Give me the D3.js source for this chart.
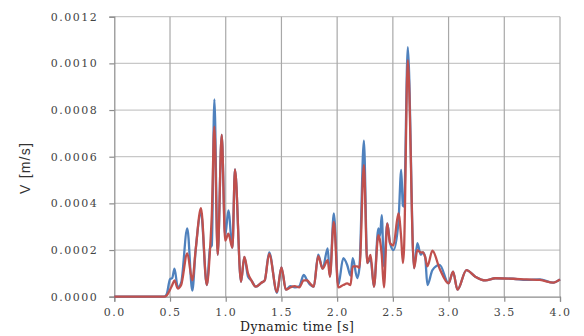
<!DOCTYPE html>
<html>
<head>
<meta charset="utf-8">
<script src="https://cdn.jsdelivr.net/npm/d3@7"></script>
<style>
  body { margin: 0; background: #fff; }
  svg { display: block; }
</style>
</head>
<body>
<svg id="chart"></svg>
<script>
// dynamic time [s]
var time = [0.0, 0.45, 0.47, 0.50, 0.52, 0.54, 0.57, 0.60, 0.655, 0.70, 0.73, 0.778, 0.83, 0.86, 0.875,
  0.898, 0.928, 0.964, 0.995, 1.024, 1.06, 1.083, 1.137, 1.167, 1.20, 1.23, 1.27, 1.32, 1.35, 1.39,
  1.46, 1.50, 1.54, 1.58, 1.62, 1.66, 1.70, 1.73, 1.76, 1.79, 1.83, 1.87, 1.915, 1.935, 1.97, 2.01,
  2.055, 2.09, 2.12, 2.14, 2.18, 2.20, 2.24, 2.27, 2.30, 2.33, 2.37, 2.385, 2.40, 2.42, 2.45, 2.475,
  2.505, 2.55, 2.575, 2.59, 2.60, 2.634, 2.69, 2.72, 2.75, 2.77, 2.79, 2.81, 2.855, 2.92, 3.0, 3.04,
  3.08, 3.16, 3.24, 3.33, 3.42, 3.58, 3.70, 3.82, 3.94, 4.0];

// V [m/s], blue series
var seriesBlue = [0, 0, 0.10e-4, 0.75e-4, 0.80e-4, 1.20e-4, 0.40e-4, 0.60e-4, 2.93e-4, 0.26e-4, 2.00e-4, 3.60e-4, 0.50e-4, 2.10e-4, 2.20e-4,
  8.46e-4, 1.80e-4, 6.93e-4, 2.60e-4, 3.70e-4, 2.10e-4, 5.46e-4, 0.64e-4, 1.71e-4, 0.86e-4, 0.70e-4, 0.43e-4, 0.60e-4, 0.70e-4, 1.90e-4,
  0.16e-4, 1.26e-4, 0.30e-4, 0.45e-4, 0.40e-4, 0.45e-4, 0.93e-4, 0.70e-4, 0.50e-4, 0.43e-4, 1.80e-4, 1.20e-4, 2.07e-4, 0.86e-4, 3.57e-4, 0.50e-4,
  1.65e-4, 1.36e-4, 0.90e-4, 1.65e-4, 0.80e-4, 1.24e-4, 6.69e-4, 1.44e-4, 1.60e-4, 0.43e-4, 2.93e-4, 2.60e-4, 3.50e-4, 1.30e-4, 3.14e-4, 2.29e-4,
  2.00e-4, 3.20e-4, 5.43e-4, 3.90e-4, 3.86e-4, 10.70e-4, 1.22e-4, 2.29e-4, 1.80e-4, 1.90e-4, 1.70e-4, 0.50e-4, 1.14e-4, 1.36e-4, 0.57e-4, 1.07e-4,
  0.30e-4, 1.14e-4, 0.86e-4, 0.70e-4, 0.79e-4, 0.77e-4, 0.72e-4, 0.74e-4, 0.60e-4, 0.74e-4];

// V [m/s], red series
var seriesRed = [0, 0, 0.05e-4, 0.30e-4, 0.50e-4, 0.70e-4, 0.35e-4, 0.50e-4, 1.86e-4, 0.70e-4, 2.00e-4, 3.80e-4, 0.50e-4, 2.10e-4, 3.50e-4,
  7.29e-4, 1.80e-4, 6.93e-4, 2.40e-4, 2.70e-4, 2.10e-4, 5.46e-4, 0.64e-4, 1.71e-4, 1.00e-4, 0.70e-4, 0.43e-4, 0.60e-4, 0.70e-4, 1.83e-4,
  0.20e-4, 1.26e-4, 0.30e-4, 0.40e-4, 0.45e-4, 0.40e-4, 0.70e-4, 0.70e-4, 0.55e-4, 0.43e-4, 1.74e-4, 1.20e-4, 1.57e-4, 0.86e-4, 3.21e-4, 0.40e-4,
  0.50e-4, 0.57e-4, 0.50e-4, 1.30e-4, 1.30e-4, 1.24e-4, 5.64e-4, 1.44e-4, 1.79e-4, 0.43e-4, 2.64e-4, 2.40e-4, 1.80e-4, 0.40e-4, 3.14e-4, 2.29e-4,
  2.20e-4, 3.57e-4, 2.50e-4, 1.44e-4, 2.00e-4, 10.14e-4, 1.22e-4, 2.00e-4, 1.90e-4, 1.90e-4, 1.70e-4, 1.30e-4, 1.97e-4, 1.20e-4, 0.57e-4, 1.07e-4,
  0.30e-4, 1.14e-4, 0.86e-4, 0.70e-4, 0.79e-4, 0.77e-4, 0.74e-4, 0.72e-4, 0.60e-4, 0.74e-4];

var xTicks = [0, 0.5, 1.0, 1.5, 2.0, 2.5, 3.0, 3.5, 4.0];
var yTicks = [0, 0.0002, 0.0004, 0.0006, 0.0008, 0.0010, 0.0012];

var width = 584, height = 336,
    margin = {top: 16.7, right: 24, bottom: 39.3, left: 114.3};

var svg = d3.select("#chart")
    .attr("width", width)
    .attr("height", height);

var x = d3.scaleLinear().domain([0, 4]).range([margin.left, width - margin.right]);
var y = d3.scaleLinear().domain([0, 0.0012]).range([height - margin.bottom, margin.top]);

// grid
svg.append("g")
  .selectAll("line")
  .data(yTicks.slice(1))
  .enter().append("line")
    .attr("x1", x(0)).attr("x2", x(4))
    .attr("y1", function(d){ return y(d); })
    .attr("y2", function(d){ return y(d); })
    .attr("stroke", "#c8c8c8")
    .attr("stroke-width", 1.2);

svg.append("g")
  .selectAll("line")
  .data(xTicks.slice(1))
  .enter().append("line")
    .attr("x1", function(d){ return x(d); })
    .attr("x2", function(d){ return x(d); })
    .attr("y1", y(0)).attr("y2", y(0.0012))
    .attr("stroke", "#a8a8a8")
    .attr("stroke-width", 1.2);

// axes
var yAxis = svg.append("g")
    .attr("transform", "translate(" + x(0) + ",0)")
    .call(d3.axisLeft(y).tickValues(yTicks).tickFormat(d3.format(".4f")).tickSize(5).tickPadding(11));

var xAxis = svg.append("g")
    .attr("transform", "translate(0," + y(0) + ")")
    .call(d3.axisBottom(x).tickValues(xTicks).tickFormat(d3.format(".1f")).tickSize(5).tickPadding(7));

[yAxis, xAxis].forEach(function(g){
  g.select(".domain").attr("stroke", "#8c8c8c").attr("stroke-width", 1.2);
  g.selectAll(".tick line").attr("stroke", "#8c8c8c").attr("stroke-width", 1.2);
  g.selectAll(".tick text")
    .attr("fill", "#444")
    .style("font-family", "'DejaVu Serif', serif")
    .style("font-size", "11px")
    .style("letter-spacing", "1.5px");
});

// series
var points = time.map(function(t, i){ return {t: t, b: seriesBlue[i], r: seriesRed[i]}; });

var lineBlue = d3.line()
    .x(function(d){ return x(d.t); })
    .y(function(d){ return y(d.b); })
    .curve(d3.curveMonotoneX);

var lineRed = d3.line()
    .x(function(d){ return x(d.t); })
    .y(function(d){ return y(d.r); })
    .curve(d3.curveMonotoneX);

svg.append("path")
    .datum(points)
    .attr("fill", "none")
    .attr("stroke", "#4f81bd")
    .attr("stroke-width", 2.3)
    .attr("stroke-linejoin", "round")
    .attr("d", lineBlue);

svg.append("path")
    .datum(points)
    .attr("fill", "none")
    .attr("stroke", "#c0504d")
    .attr("stroke-width", 2.3)
    .attr("stroke-linejoin", "round")
    .attr("d", lineRed);

// titles
svg.append("text")
    .attr("x", (x(0) + x(4)) / 2 - 40)
    .attr("y", 331)
    .attr("text-anchor", "middle")
    .attr("fill", "#222")
    .style("font-family", "'DejaVu Serif', serif")
    .style("font-size", "12.5px")
    .style("letter-spacing", "0.4px")
    .text("Dynamic time [s]");

svg.append("text")
    .attr("transform", "translate(30,168) rotate(-90)")
    .attr("text-anchor", "middle")
    .attr("fill", "#333")
    .style("font-family", "'Liberation Sans', sans-serif")
    .style("font-size", "14px")
    .style("letter-spacing", "1.2px")
    .text("V [m/s]");
</script>
</body>
</html>
